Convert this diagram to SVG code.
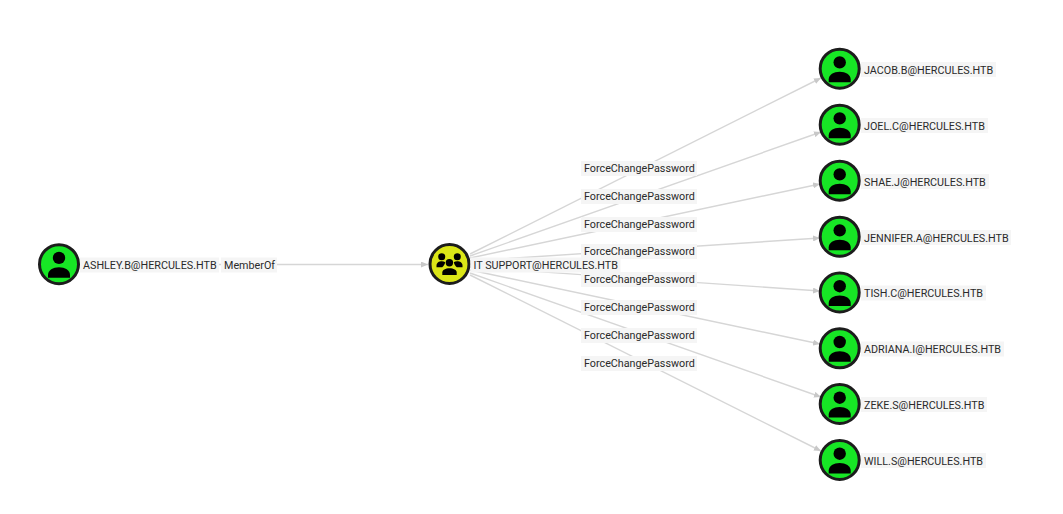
<svg xmlns="http://www.w3.org/2000/svg" width="1063" height="514" viewBox="0 0 1063 514">
<style>
.bg{fill:#f5f5f5}
text{font-family:Roboto,"Liberation Sans",sans-serif;font-size:10.75px;fill:#2a2a2a;dominant-baseline:central}
.c{stroke:#d6d6d6;stroke-width:1.4;fill:none;marker-end:url(#a)}
.n{stroke:#1c1c1c;stroke-width:3}
.u{fill:#17e625}.g{fill:#dbe617}
</style>
<defs>
<marker id="a" markerUnits="userSpaceOnUse" markerWidth="8" markerHeight="6" refX="7" refY="3" orient="auto"><path d="M0 0L7 3L0 6Z" fill="#c8c8c8"/></marker>
<g id="user"><circle class="n u" r="19.500"/><circle cy="-6.300" r="6.200" fill="#000"/><path d="M-11 13.500V10.500C-11 6-6 3-0 3C6 3 11 6 11 10.500V13.500Z" fill="#000"/></g>
</defs>
<g id="connectors">
<path class="c" d="M80 264.500H428"/>
<path class="c" d="M470 254L821 78"/>
<path class="c" d="M470 256L821 132"/>
<path class="c" d="M470 258L820 184"/>
<path class="c" d="M470 261L820 238"/>
<path class="c" d="M470 267L820 291"/>
<path class="c" d="M470 270L820 344"/>
<path class="c" d="M470 273L821 397"/>
<path class="c" d="M470 275L821 451"/>
</g>
<g id="edge-labels">
<rect class="bg" x="221" y="257.500" width="56" height="15"/><text x="224" y="265">MemberOf</text>
<rect class="bg" x="581" y="161" width="116" height="15"/><text x="584" y="168.500">ForceChangePassword</text>
<rect class="bg" x="581" y="189" width="116" height="15"/><text x="584" y="196.500">ForceChangePassword</text>
<rect class="bg" x="581" y="217" width="116" height="15"/><text x="584" y="224.500">ForceChangePassword</text>
<rect class="bg" x="581" y="244" width="116" height="15"/><text x="584" y="251.500">ForceChangePassword</text>
<rect class="bg" x="581" y="272" width="116" height="15"/><text x="584" y="279.500">ForceChangePassword</text>
<rect class="bg" x="581" y="300" width="116" height="15"/><text x="584" y="307.500">ForceChangePassword</text>
<rect class="bg" x="581" y="328" width="116" height="15"/><text x="584" y="335.500">ForceChangePassword</text>
<rect class="bg" x="581" y="356" width="116" height="15"/><text x="584" y="363.500">ForceChangePassword</text>
</g>
<g id="ashley"><use href="#user" x="59" y="264.200"/><rect class="bg" x="80" y="257.500" width="139" height="15"/><text x="83" y="265">ASHLEY.B@HERCULES.HTB</text></g>
<g id="it-support"><circle class="n g" cx="449.500" cy="264" r="19.500"/>
<circle cx="441.700" cy="256.700" r="3.500"/><circle cx="457.300" cy="256.700" r="3.500"/><circle cx="449.400" cy="262.700" r="3.700"/>
<path d="M436.500 267.300V265.500C436.500 262.800 439 261.300 441.800 261.300C443.200 261.300 444.300 261.600 445.200 262.200C444.800 264.200 443.700 265.800 442.200 267.300Z"/>
<path d="M462.500 267.300V265.500C462.500 262.800 460 261.300 457.200 261.300C455.800 261.300 454.700 261.600 453.800 262.200C454.200 264.200 455.300 265.800 456.800 267.300Z"/>
<path d="M442.300 275V272.500C442.300 269.800 445.500 268.200 449.500 268.200C453.500 268.200 456.700 269.800 456.700 272.500V275Z"/>
<rect class="bg" x="470.500" y="257.500" width="150" height="15"/><text x="473.500" y="265">IT SUPPORT@HERCULES.HTB</text></g>
<g id="jacob"><use href="#user" x="839.700" y="68.700"/><rect class="bg" x="861" y="62" width="135" height="15"/><text x="864" y="70">JACOB.B@HERCULES.HTB</text></g>
<g id="joel"><use href="#user" x="839.700" y="124.700"/><rect class="bg" x="861" y="118" width="127" height="15"/><text x="864" y="126">JOEL.C@HERCULES.HTB</text></g>
<g id="shae"><use href="#user" x="839.700" y="180.700"/><rect class="bg" x="861" y="174" width="128" height="15"/><text x="864" y="182">SHAE.J@HERCULES.HTB</text></g>
<g id="jennifer"><use href="#user" x="839.700" y="236.700"/><rect class="bg" x="861" y="230" width="150" height="15"/><text x="864" y="238">JENNIFER.A@HERCULES.HTB</text></g>
<g id="tish"><use href="#user" x="839.700" y="292.500"/><rect class="bg" x="861" y="285.500" width="125" height="15"/><text x="864" y="293.500">TISH.C@HERCULES.HTB</text></g>
<g id="adriana"><use href="#user" x="839.700" y="348.300"/><rect class="bg" x="861" y="341.500" width="143" height="15"/><text x="864" y="349.500">ADRIANA.I@HERCULES.HTB</text></g>
<g id="zeke"><use href="#user" x="839.700" y="404"/><rect class="bg" x="861" y="397" width="126" height="15"/><text x="864" y="405">ZEKE.S@HERCULES.HTB</text></g>
<g id="will"><use href="#user" x="839.700" y="460"/><rect class="bg" x="861" y="453" width="125" height="15"/><text x="864" y="461">WILL.S@HERCULES.HTB</text></g>
</svg>
